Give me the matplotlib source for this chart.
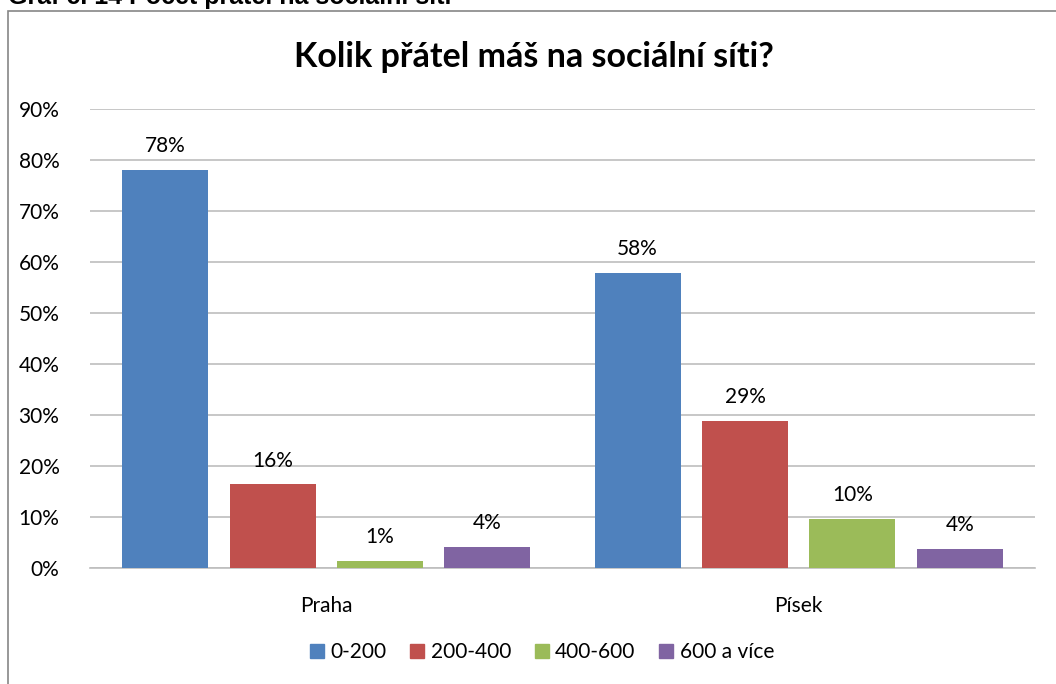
import matplotlib.pyplot as plt
import matplotlib.patches as mpatches
import numpy as np

# Data
cities = ["Praha", "Písek"]
groups = ["0-200", "200-400", "400-600", "600 a více"]
colors = ["#4F81BD", "#C0504D", "#9BBB59", "#8064A2"]
values = {
    "0-200": [0.780, 0.578],
    "200-400": [0.164, 0.288],
    "400-600": [0.014, 0.096],
    "600 a více": [0.041, 0.037],
}
yticks = np.arange(0, 1.0, 0.1)

plt.rcParams['font.family'] = ['Lato', 'DejaVu Sans']

fig = plt.figure(figsize=(10.56, 6.84), dpi=100)
ax = fig.add_axes([90 / 1056, 1 - 568 / 684, 945 / 1056, (568 - 109) / 684])

# Outer chart frame (cut off at the right and bottom like the screenshot)
frame = mpatches.Rectangle((8 / 1056, -0.05), 1.1, 1 - 11 / 684 + 0.05,
                           transform=fig.transFigure, fill=False,
                           edgecolor="#868686", linewidth=1.2)
fig.patches.append(frame)

# Document caption, mostly cut off by the top edge
fig.text(8 / 1056, 1 - 4 / 684, "Graf č. 14 Počet přátel na sociální síti",
         fontsize=18, fontweight="bold", va="baseline", ha="left",
         family="Liberation Sans")

x = np.arange(len(cities))
width = 0.182
step = 0.2275
for i, g in enumerate(groups):
    pos = x + (i - 1.5) * step
    bars = ax.bar(pos, values[g], width, color=colors[i], label=g, zorder=3)
    for b, v in zip(bars, values[g]):
        ax.text(b.get_x() + b.get_width() / 2, v + 0.035, f"{round(v * 100):.0f}%",
                ha="center", va="baseline", fontsize=15)

ax.set_xlim(-0.5, 1.5)
ax.set_ylim(0, 0.9)
ax.set_yticks(yticks)
ax.set_yticklabels([f"{round(t * 100)}%" for t in yticks], fontsize=15)
ax.set_xticks(x)
ax.set_xticklabels(cities, fontsize=15)
ax.tick_params(axis="x", length=0, pad=20)
ax.tick_params(axis="y", length=0, pad=22)
ax.grid(axis="y", color="#BEBEBE", linewidth=1.2, zorder=0)
for s in ["top", "right", "left"]:
    ax.spines[s].set_visible(False)
ax.spines["bottom"].set_color("#BEBEBE")
ax.spines["bottom"].set_linewidth(1.2)

fig.text(534 / 1056, 1 - 57 / 684, "Kolik přátel máš na sociální síti?",
         fontsize=24.5, fontweight="bold", ha="center", va="center")

handles = [mpatches.Patch(color=c, label=g) for c, g in zip(colors, groups)]
fig.legend(handles=handles, loc="center", bbox_to_anchor=(542 / 1056, 1 - 652 / 684),
           ncol=4, frameon=False, fontsize=15, handlelength=0.67, handleheight=0.67,
           handletextpad=0.3, columnspacing=1.15)

fig.savefig("out.png", dpi=100)
